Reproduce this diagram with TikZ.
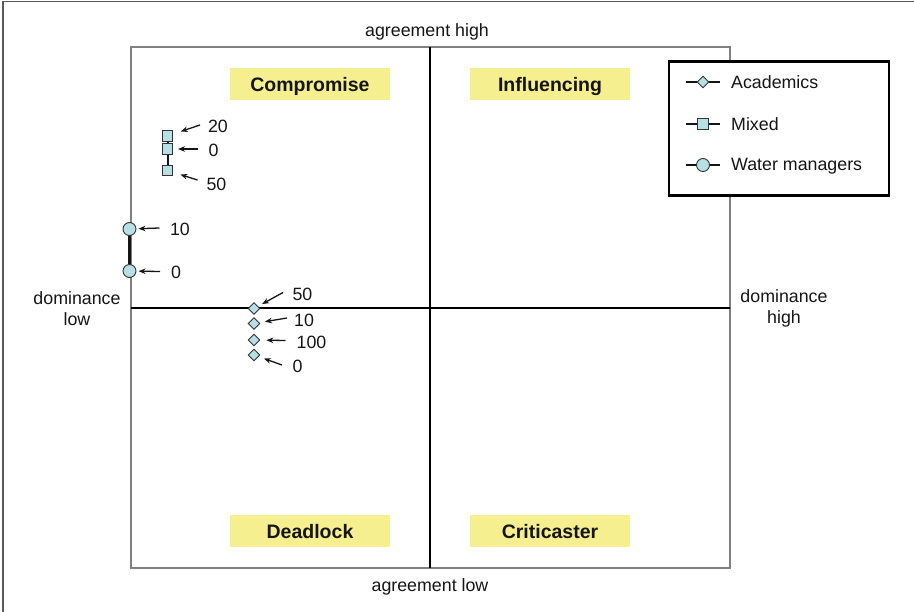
\documentclass[tikz,border=0pt]{standalone}
\usepackage{fontspec}
\setmainfont{Liberation Sans}
\usetikzlibrary{shapes.geometric,arrows.meta}
\definecolor{quadfill}{HTML}{F6EF90}
\definecolor{markfill}{HTML}{B8E0E4}
\definecolor{frameg}{HTML}{808080}
\definecolor{inkc}{HTML}{151515}
\tikzset{
  txt/.style={font=\fontsize{17.8}{20}\selectfont, text=inkc, inner sep=0pt},
  quadlabel/.style={fill=quadfill, minimum width=160pt, minimum height=32pt, inner sep=0pt,
    text height=14pt, text depth=0pt,
    font=\fontsize{19.5}{22}\selectfont\bfseries, text=inkc},
  sqmark/.style={rectangle, draw=black!80, fill=markfill, line width=0.9pt, minimum size=10.5pt, inner sep=0pt},
  cirmark/.style={circle, draw=black!80, fill=markfill, line width=0.9pt, minimum size=13pt, inner sep=0pt},
  diamark/.style={diamond, draw=black!80, fill=markfill, line width=0.9pt, minimum size=12pt, inner sep=0pt},
  ptr/.style={draw=inkc, line width=1.3pt, -{Stealth[length=7pt,width=5.5pt]}},
  series/.style={draw=inkc, line width=2pt}
}
\begin{document}
\begin{tikzpicture}[x=1pt,y=-1pt]
\useasboundingbox (0,0) rectangle (914,612);
% page frame (top and left)
\draw[frameg!70!black, line width=1.2pt] (3,612) -- (3,1.5) -- (914,1.5);

% quadrant frame and axes
\draw[frameg, line width=2pt] (130.5,47.5) rectangle (729.5,567.5);
\coordinate (top) at (430,47.5);
\coordinate (bot) at (430,567.5);
\coordinate (lft) at (130.5,308);
\coordinate (rgt) at (729.5,308);
\draw[black, line width=2.2pt] (top) -- (bot);
\draw[black, line width=2.2pt] (lft) -- (rgt);

% axis captions
\node[txt] (ahigh) at (427,31.5) {agreement high};
\node[txt] (alow) at (430,586.5) {agreement low};
\node[txt, align=center] (dlow) at (77,308.5) {dominance\\[1pt]low};
\node[txt, align=center] (dhigh) at (784,308.5) {dominance\\[1pt]high};

% quadrant names
\node[quadlabel] (qcomp) at (310,84.5) {Compromise};
\node[quadlabel] (qinfl) at (550,84.5) {Influencing};
\node[quadlabel] (qdead) at (310,531) {Deadlock};
\node[quadlabel] (qcrit) at (550,531) {Criticaster};

% Mixed
\draw[series] (167.5,136) -- (167.5,170.5);
\node[sqmark] (m20) at (167.5,136) {};
\node[sqmark] (m0) at (167.5,149) {};
\node[sqmark] (m50) at (167.5,170.5) {};
\node[txt] (lm20) at (218,126.5) {20};
\node[txt] (lm0) at (213.5,150) {0};
\node[txt] (lm50) at (216.5,184) {50};
\coordinate (tm20) at (200,125);
\coordinate (tm0) at (197.5,149);
\coordinate (tm50) at (197.5,180);
\draw[ptr, shorten >=8pt] (tm20) -- (m20);
\draw[ptr, shorten >=10.5pt] (tm0) -- (m0.center);
\draw[ptr, shorten >=7.5pt] (tm50) -- (m50);

% Water managers
\node[cirmark] (w10) at (129.5,229) {};
\node[cirmark] (w0) at (129.5,271) {};
\draw[series, line width=2.6pt] (w10) -- (w0);
\node[txt] (lw10) at (180,229) {10};
\node[txt] (lw0) at (176,272.5) {0};
\coordinate (tw10) at (159.5,228);
\coordinate (tw0) at (160,271.5);
\draw[ptr, shorten >=9pt] (tw10) -- (w10.center);
\draw[ptr, shorten >=9pt] (tw0) -- (w0.center);

% Academics
\node[diamark] (a50) at (254,308.5) {};
\node[diamark] (a10) at (254,323.5) {};
\node[diamark] (a100) at (254,340) {};
\node[diamark] (a0) at (254,355) {};
\node[txt] (la50) at (302.5,294) {50};
\node[txt] (la10) at (304,320.5) {10};
\node[txt] (la100) at (311.5,342.5) {100};
\node[txt] (la0) at (297.5,366) {0};
\coordinate (ta50) at (283,292.5);
\coordinate (ta10) at (287,318);
\coordinate (ta100) at (285.5,340.5);
\coordinate (ta0) at (282,365);
\draw[ptr, shorten >=4.5pt] (ta50) -- (a50);
\draw[ptr, shorten >=5.5pt] (ta10) -- (a10);
\draw[ptr, shorten >=6pt] (ta100) -- (a100);
\draw[ptr, shorten >=5.5pt] (ta0) -- (a0);

% legend
\node[draw=black, line width=2.8pt, fill=white, minimum width=220pt, minimum height=134pt, inner sep=0pt]
  (legend) at (779,128.5) {};
\coordinate (la1) at (686,82);  \coordinate (lb1) at (720,82);
\coordinate (la2) at (686,124); \coordinate (lb2) at (720,124);
\coordinate (la3) at (686,165); \coordinate (lb3) at (720,165);
\draw[series, line width=1.8pt] (la1) -- (lb1);
\draw[series, line width=1.8pt] (la2) -- (lb2);
\draw[series, line width=1.8pt] (la3) -- (lb3);
\node[diamark] (kacad) at (703,82) {};
\node[sqmark] (kmix) at (703,124) {};
\node[cirmark] (kwat) at (703,165) {};
\node[txt, anchor=west] (tacad) at (731,82.5) {Academics};
\node[txt, anchor=west] (tmix) at (731,124) {Mixed};
\node[txt, anchor=west] (twat) at (731,166) {Water managers};
\end{tikzpicture}
\end{document}
